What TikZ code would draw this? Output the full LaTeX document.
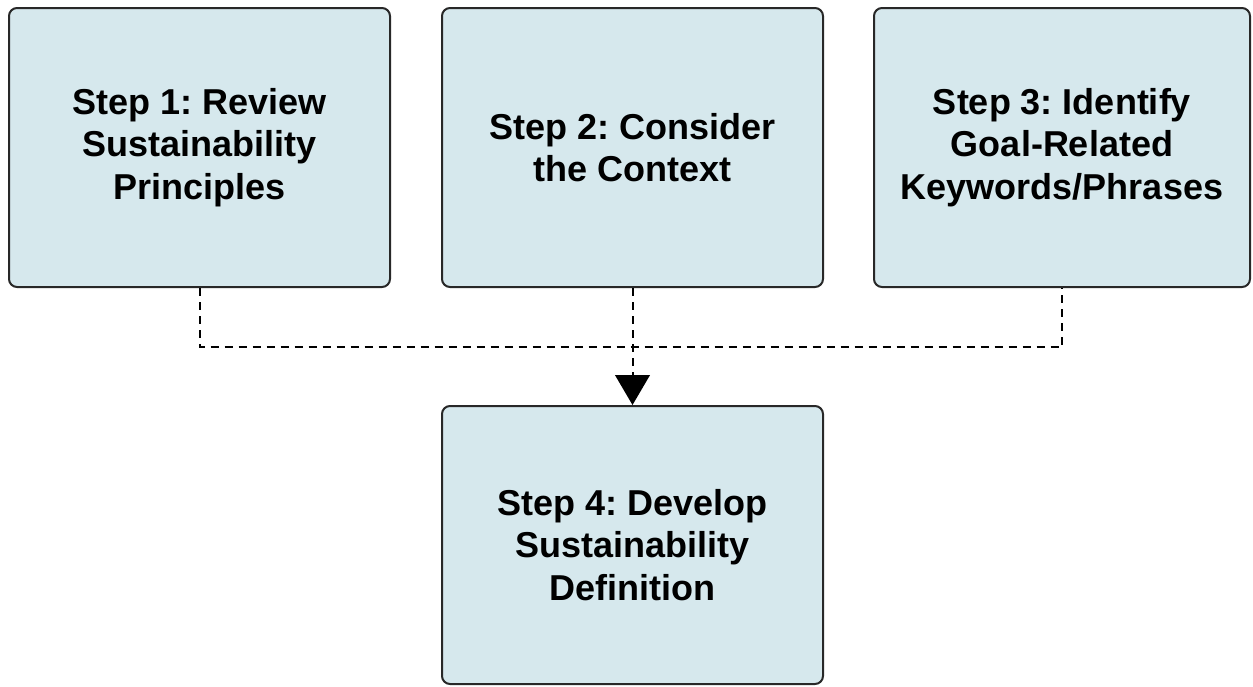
\documentclass[tikz,border=0pt]{standalone}
\usepackage{fontspec}
\setmainfont{Liberation Sans}
\usetikzlibrary{arrows.meta}
\frenchspacing

\definecolor{boxfill}{RGB}{214,232,237}
\definecolor{boxline}{RGB}{40,40,40}

\tikzset{
  stepbox/.style={draw=boxline, fill=boxfill, line width=1.5pt, rounded corners=6pt,
    minimum width=285.75pt, minimum height=209.25pt, align=center,
    font=\fontsize{27}{32}\selectfont\bfseries},
  dashlink/.style={line width=1.5pt, dash pattern=on 6pt off 4.5pt}
}

\begin{document}
\begin{tikzpicture}[x=0.75pt,y=0.75pt,yscale=-1,xscale=1]
\useasboundingbox (0,0) rectangle (1253,686);

% the three input steps
\node[stepbox] (s1) at (199.5,147.5) {Step 1: Review\\Sustainability\\Principles};
\node[stepbox] (s2) at (632.5,147.5) {Step 2: Consider\\the Context};
\node[stepbox, minimum width=282pt] (s3) at (1062,147.5) {Step 3: Identify\\Goal-Related\\Keywords/Phrases};
% the resulting step
\node[stepbox, minimum height=208.5pt] (s4) at (632.5,545) {Step 4: Develop\\Sustainability\\Definition};

% dashed joins
\coordinate (join) at (632.5,347);
\draw[dashlink] (s1.south) |- (join) -| (s3.south);
\draw[dashlink, -{Triangle[length=22.5pt,width=26pt]}] (s2.south) -- (s4.north);

\end{tikzpicture}
\end{document}
